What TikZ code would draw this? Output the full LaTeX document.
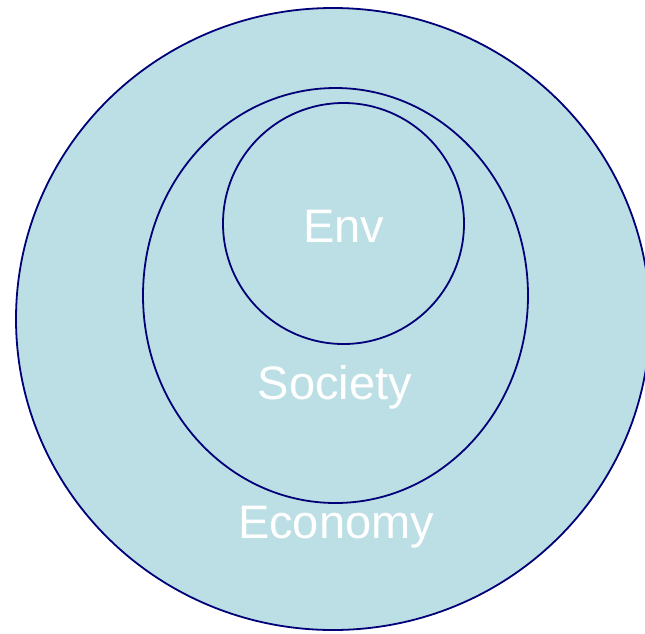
\documentclass[tikz,border=0pt]{standalone}
\usepackage{fontspec}
\setmainfont{Liberation Sans}
\definecolor{ringfill}{RGB}{187,223,228}
\definecolor{ringline}{RGB}{0,0,120}
\tikzset{
  ring/.style={draw=ringline, fill=ringfill, line width=1.8pt},
  lbl/.style={text=white, font=\fontsize{47}{50}\selectfont, inner sep=0pt, anchor=center}
}
\begin{document}
\begin{tikzpicture}[x=1pt,y=-1pt]
\path[use as bounding box] (0,0) rectangle (645,633);
\begin{scope}
\clip (0,0) rectangle (645,633);
\draw[ring] (333,319) ellipse [x radius=317, y radius=311];
\draw[ring] (335.5,295.5) ellipse [x radius=192.5, y radius=207.5];
\draw[ring] (343.5,223.5) circle [radius=120.5];
\end{scope}
\node[lbl] (env) at (344,226) {Env};
\node[lbl] (soc) at (335,387) {Society};
\node[lbl] (eco) at (336,527) {Economy};
\end{tikzpicture}
\end{document}
